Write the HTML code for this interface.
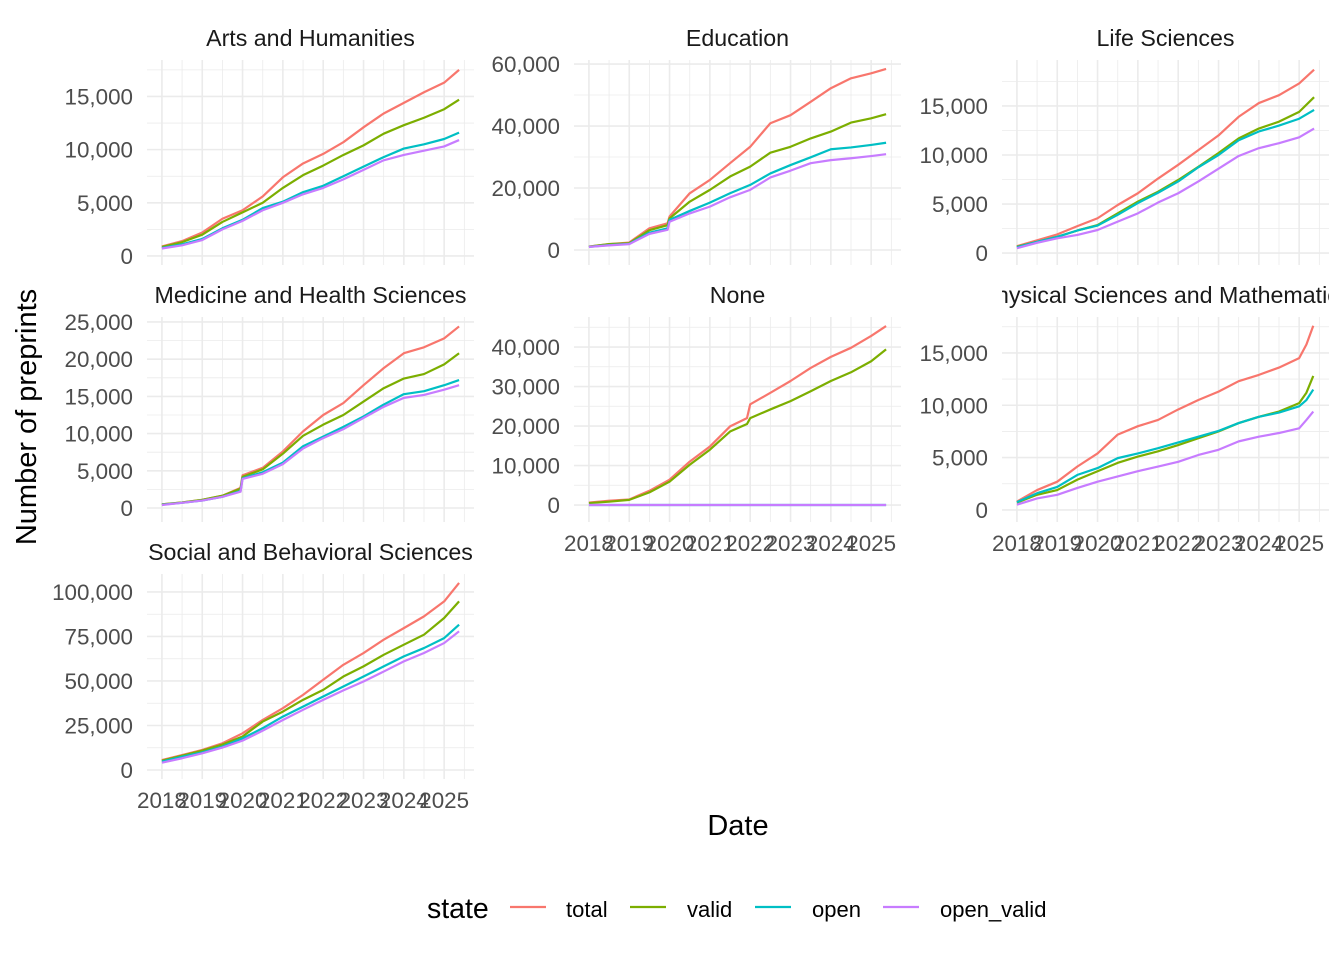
<!DOCTYPE html>
<html><head><meta charset="utf-8"><title>Preprints by subject</title>
<style>
html,body{margin:0;padding:0;background:#fff;}
svg{display:block;font-family:"Liberation Sans",Arial,sans-serif;}
</style></head>
<body>
<svg id="chart" width="1344" height="960" viewBox="0 0 1344 960" xmlns="http://www.w3.org/2000/svg">
<rect x="0" y="0" width="1344" height="960" fill="#fff"/>
<g id="panels"></g>
<text transform="translate(36,417) rotate(-90)" text-anchor="middle" font-size="29" fill="#000">Number of preprints</text>
<text x="738" y="835" text-anchor="middle" font-size="29" fill="#000">Date</text>
<g id="legend">
<text x="427" y="918" font-size="28.5" fill="#000">state</text>
</g>
</svg>
<script>
const seriesNames = ["total","valid","open","open_valid"];
const seriesColors = ["#F8766D","#7CAE00","#00BFC4","#C77CFF"];
const xTickYears = [2018,2019,2020,2021,2022,2023,2024,2025];

const stdYears = [2018,2018.5,2019,2019.5,2020,2020.5,2021,2021.5,2022,2022.5,2023,2023.5,2024,2024.5,2025,2025.37];

const artsYears = stdYears;
const artsTotal = [0.9,1.4,2.2,3.5,4.3,5.6,7.4,8.7,9.6,10.7,12.1,13.4,14.4,15.4,16.3,17.5];
const artsValid = [0.85,1.3,2.0,3.2,4.1,5.0,6.4,7.6,8.5,9.5,10.4,11.5,12.3,13.0,13.8,14.7];
const artsOpen = [0.75,1.1,1.6,2.6,3.4,4.5,5.1,6.0,6.6,7.5,8.4,9.3,10.1,10.5,11.0,11.6];
const artsOpenValid = [0.7,1.0,1.5,2.5,3.3,4.3,5.0,5.8,6.4,7.2,8.1,9.0,9.5,9.9,10.3,10.9];
const artsTicks = [0,5000,10000,15000];

const eduYears = [2018,2018.5,2019,2019.5,2019.95,2020,2020.5,2021,2021.5,2022,2022.5,2023,2023.5,2024,2024.5,2025,2025.37];
const eduTotal = [1.1,1.9,2.4,7.0,8.6,10.8,18.3,22.6,28.0,33.3,40.9,43.5,47.8,52.2,55.4,57.0,58.4];
const eduValid = [1.1,1.9,2.2,6.4,8.0,10.2,15.6,19.4,23.7,26.9,31.4,33.3,36.0,38.2,41.1,42.5,43.8];
const eduOpen = [1.0,1.6,2.0,5.6,7.0,9.7,12.6,15.3,18.3,21.0,24.7,27.4,29.9,32.5,33.1,33.9,34.6];
const eduOpenValid = [1.0,1.5,1.9,5.2,6.5,9.1,11.8,14.0,17.0,19.4,23.4,25.6,28.0,29.0,29.6,30.3,30.9];
const eduTicks = [0,20000,40000,60000];

const lifeYears = stdYears;
const lifeTotal = [0.7,1.3,1.9,2.75,3.55,4.9,6.1,7.6,9.0,10.5,12.0,13.9,15.3,16.1,17.3,18.7];
const lifeValid = [0.65,1.15,1.65,2.3,2.85,4.05,5.25,6.25,7.45,8.8,10.2,11.7,12.7,13.4,14.4,15.9];
const lifeOpen = [0.6,1.15,1.65,2.3,2.8,3.9,5.1,6.15,7.3,8.75,10.0,11.5,12.4,13.0,13.7,14.6];
const lifeOpenValid = [0.5,1.05,1.5,1.85,2.35,3.2,4.05,5.15,6.1,7.3,8.6,9.9,10.7,11.2,11.8,12.7];
const lifeTicks = [0,5000,10000,15000];

const medYears = [2018,2018.5,2019,2019.5,2019.95,2020,2020.5,2021,2021.5,2022,2022.5,2023,2023.5,2024,2024.5,2025,2025.37];
const medTotal = [0.5,0.75,1.1,1.65,2.7,4.4,5.4,7.6,10.3,12.5,14.1,16.5,18.8,20.8,21.6,22.8,24.4];
const medValid = [0.5,0.75,1.1,1.65,2.6,4.2,5.2,7.3,9.7,11.2,12.5,14.3,16.1,17.4,18.0,19.3,20.8];
const medOpen = [0.45,0.7,1.0,1.5,2.3,4.0,4.8,6.1,8.3,9.6,10.9,12.3,13.9,15.3,15.7,16.5,17.2];
const medOpenValid = [0.4,0.7,1.0,1.5,2.2,3.9,4.6,5.9,8.0,9.4,10.6,12.1,13.6,14.8,15.2,15.9,16.5];
const medTicks = [0,5000,10000,15000,20000,25000];

const noneYears = [2018,2018.5,2019,2019.5,2020,2020.5,2021,2021.5,2021.92,2022,2022.5,2023,2023.5,2024,2024.5,2025,2025.37];
const noneTotal = [0.6,1.1,1.4,3.6,6.4,11.0,14.8,19.9,22.0,25.5,28.4,31.4,34.7,37.5,39.8,42.8,45.3];
const noneValid = [0.5,0.85,1.3,3.2,5.9,10.2,14.0,18.6,20.5,22.0,24.2,26.3,28.8,31.4,33.6,36.4,39.4];
const noneOpen = [0,0,0,0,0,0,0,0,0,0,0,0,0,0,0,0,0];
const noneOpenValid = [0,0,0,0,0,0,0,0,0,0,0,0,0,0,0,0,0];
const noneTicks = [0,10000,20000,30000,40000];

const physYears = [2018,2018.5,2019,2019.5,2020,2020.5,2021,2021.5,2022,2022.5,2023,2023.5,2024,2024.5,2025,2025.18,2025.35];
const physTotal = [0.8,1.9,2.7,4.15,5.4,7.2,8.0,8.6,9.6,10.5,11.3,12.3,12.9,13.6,14.5,15.8,17.6];
const physValid = [0.7,1.45,1.9,2.9,3.7,4.5,5.1,5.6,6.2,6.85,7.5,8.3,8.9,9.4,10.2,11.2,12.8];
const physOpen = [0.75,1.6,2.2,3.35,4.0,4.95,5.4,5.9,6.45,7.0,7.55,8.3,8.9,9.3,9.9,10.5,11.5];
const physOpenValid = [0.5,1.1,1.45,2.1,2.7,3.2,3.7,4.15,4.6,5.25,5.75,6.55,7.0,7.35,7.8,8.6,9.4];
const physTicks = [0,5000,10000,15000];

const socYears = stdYears;
const socTotal = [5.6,8.4,11.3,15.0,20.6,28.1,34.7,42.2,50.7,59.1,65.7,73.2,79.7,86.3,94.7,105.1];
const socValid = [5.2,8.0,10.9,14.3,18.8,27.2,32.8,39.4,45.0,52.5,58.2,64.7,70.4,76.0,85.4,94.7];
const socOpen = [4.7,7.5,9.9,13.1,17.8,23.5,30.0,35.6,41.3,46.9,52.5,58.2,63.8,68.5,74.1,81.6];
const socOpenValid = [4.1,6.6,9.4,12.6,16.5,22.1,28.1,33.8,39.4,44.7,49.7,55.3,61.0,65.7,71.3,77.9];
const socTicks = [0,25000,50000,75000,100000];

const NS = "http://www.w3.org/2000/svg";
const root = document.getElementById("panels");
function mk(tag, attrs, parent){
  const e = document.createElementNS(NS, tag);
  for (const k in attrs) e.setAttribute(k, attrs[k]);
  (parent||root).appendChild(e);
  return e;
}
const fmt = v => v.toLocaleString("en-US");

const W = 327, H = 205;
const panels = [
  {name:"Arts and Humanities", key:"arts", left:147, top:60, lo:-0.85, hi:18.43, years:artsYears, s:[artsTotal,artsValid,artsOpen,artsOpenValid], ticks:artsTicks, xlab:false},
  {name:"Education", key:"education", left:574, top:60, lo:-4.84, hi:61.3, years:eduYears, s:[eduTotal,eduValid,eduOpen,eduOpenValid], ticks:eduTicks, xlab:false},
  {name:"Life Sciences", key:"life-sciences", left:1002, top:60, lo:-1.22, hi:19.69, years:lifeYears, s:[lifeTotal,lifeValid,lifeOpen,lifeOpenValid], ticks:lifeTicks, xlab:false},
  {name:"Medicine and Health Sciences", key:"medicine", left:147, top:317, lo:-1.88, hi:25.67, years:medYears, s:[medTotal,medValid,medOpen,medOpenValid], ticks:medTicks, xlab:false},
  {name:"None", key:"none", left:574, top:317, lo:-4.3, hi:47.6, years:noneYears, s:[noneTotal,noneValid,noneOpen,noneOpenValid], ticks:noneTicks, xlab:true},
  {name:"Physical Sciences and Mathematics", key:"physical-sciences", left:1002, top:317, lo:-1.15, hi:18.43, years:physYears, s:[physTotal,physValid,physOpen,physOpenValid], ticks:physTicks, xlab:true},
  {name:"Social and Behavioral Sciences", key:"social-sciences", left:147, top:574, lo:-5.06, hi:110.1, years:socYears, s:[socTotal,socValid,socOpen,socOpenValid], ticks:socTicks, xlab:true}
];
const xLo = 2017.63, xHi = 2025.74;

panels.forEach((p, pi) => {
  const g = mk("g", {});
  
  
  const xs = v => p.left + (v - xLo) / (xHi - xLo) * W;
  const ys = v => p.top + H - (v - p.lo) / (p.hi - p.lo) * H;
  const cp = mk("clipPath", {id:"clip"+pi}, g);
  mk("rect", {x:p.left, y:p.top-40, width:W, height:40}, cp);
  const title = mk("text", {x:p.left+W/2, y:p.top-14, "text-anchor":"middle", "font-size":"23.2", fill:"#1a1a1a", "clip-path":"url(#clip"+pi+")"}, g);
  
  
  title.textContent = p.name;
  const step = (p.ticks[1]-p.ticks[0])/1000;
  for (let v = Math.ceil(p.lo/(step/2))*(step/2); v <= p.hi; v += step/2) {
    const major = Math.abs(v/step - Math.round(v/step)) < 1e-6;
    const l = mk("line", {x1:p.left, x2:p.left+W, y1:ys(v), y2:ys(v), stroke:"#ebebeb", "stroke-width": major?1.6:0.8}, g);
    
    
  }
  for (let yv = 2018; yv <= xHi; yv += 0.5) {
    const major = Number.isInteger(yv);
    const l = mk("line", {x1:xs(yv), x2:xs(yv), y1:p.top, y2:p.top+H, stroke:"#ebebeb", "stroke-width": major?1.6:0.8}, g);
    
    
  }
  p.ticks.forEach(t => {
    const tx = mk("text", {x:p.left-14, y:ys(t/1000)+8, "text-anchor":"end", "font-size":"22.4", fill:"#4d4d4d"}, g);
    
    
    tx.textContent = fmt(t);
  });
  if (p.xlab) {
    xTickYears.forEach(yr => {
      const tx = mk("text", {x:xs(yr), y:p.top+H+29, "text-anchor":"middle", "font-size":"22.4", fill:"#4d4d4d"}, g);
      
      
      tx.textContent = yr;
    });
  }
  p.s.forEach((arr, si) => {
    const d = arr.map((v, i) => (i ? "L" : "M") + xs(p.years[i]).toFixed(2) + "," + ys(v).toFixed(2)).join(" ");
    const path = mk("path", {d:d, fill:"none", stroke:seriesColors[si], "stroke-width":"2.2", "stroke-linejoin":"round"}, g);
    
    
  });
});

const legend = document.getElementById("legend");
const legendKeyX = [510, 630, 755, 883];
const legendTextX = [566, 687, 812, 940];
seriesNames.forEach((n, i) => {
  const l = mk("line", {x1:legendKeyX[i], x2:legendKeyX[i]+36, y1:907, y2:907, stroke:seriesColors[i], "stroke-width":"2.2"}, legend);
  
  
  const t = mk("text", {x:legendTextX[i], y:917, "font-size":"22", fill:"#000"}, legend);
  
  
  t.textContent = n;
});
</script>
</body></html>
